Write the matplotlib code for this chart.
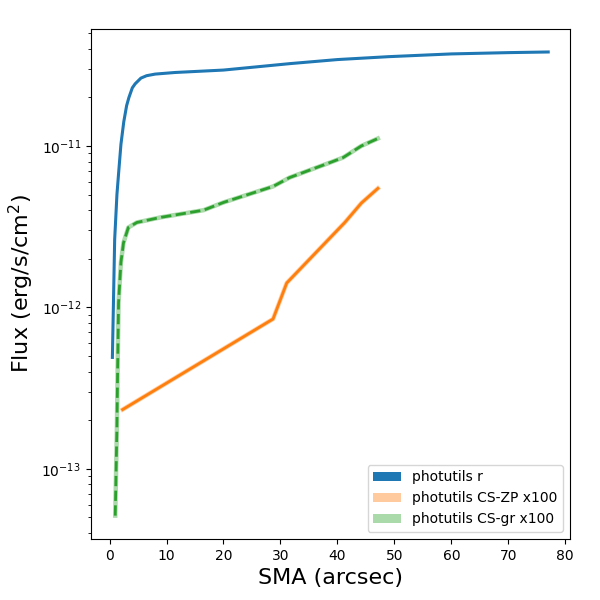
import numpy as np
import matplotlib
matplotlib.use("Agg")
import matplotlib.pyplot as plt
from matplotlib.patches import Patch

# === Profiles (SMA in arcsec, flux in erg/s/cm^2) ===
sma_r = [0.5, 0.9, 1.3, 1.6, 2.0, 2.5, 3.0, 3.4, 4.0, 4.5, 5.5, 6.5, 8.0,
         11.5, 20.0, 31.7, 40.0, 49.0, 60.0, 70.0, 77.0]
log_flux_r = [-12.31, -11.58, -11.30, -11.165, -10.99, -10.85, -10.75, -10.70,
              -10.64, -10.615, -10.58, -10.565, -10.555, -10.545, -10.53,
              -10.49, -10.465, -10.447, -10.43, -10.422, -10.418]

sma_zp = [2.3, 28.7, 31.1, 41.3, 44.2, 47.1]
log_flux_zp = [-12.633, -12.072, -11.849, -11.474, -11.354, -11.263]

sma_gr = [1.0, 1.29, 1.45, 1.58, 2.0, 2.45, 3.3, 4.8, 8.9, 16.5, 20.0, 28.7,
          31.6, 38.7, 41.0, 44.2, 47.1]
log_flux_gr = [-13.29, -12.75, -12.3, -11.97, -11.72, -11.6, -11.505, -11.474,
               -11.443, -11.398, -11.35, -11.251, -11.196, -11.103, -11.072,
               -11.0, -10.954]

labels = ["photutils r", "photutils CS-ZP x100", "photutils CS-gr x100"]

flux_r = 10 ** np.array(log_flux_r)
flux_zp = 10 ** np.array(log_flux_zp)
flux_gr = 10 ** np.array(log_flux_gr)

fig, ax = plt.subplots(figsize=(6, 6), dpi=100)
fig.subplots_adjust(left=0.151, right=0.95, top=0.952, bottom=0.102)

# faint under-strokes standing in for the (very thin) uncertainty bands
ax.plot(sma_zp, flux_zp, color="C1", alpha=0.4, lw=3.2)
ax.plot(sma_gr, flux_gr, color="C2", alpha=0.4, lw=3.2)

ax.plot(sma_r, flux_r, color="C0", lw=2.2)
ax.plot(sma_zp, flux_zp, color="C1", lw=2)
ax.plot(sma_gr, flux_gr, color="C2", lw=2, ls="--")

ax.set_yscale("log")
ax.set_xlabel("SMA (arcsec)", fontsize=16)
ax.set_ylabel("Flux (erg/s/cm$^2$)", fontsize=16)

handles = [Patch(facecolor="C0", label=labels[0]),
           Patch(facecolor="C1", alpha=0.4, label=labels[1]),
           Patch(facecolor="C2", alpha=0.4, label=labels[2])]
ax.legend(handles=handles, loc="lower right")

plt.savefig("out.png")
